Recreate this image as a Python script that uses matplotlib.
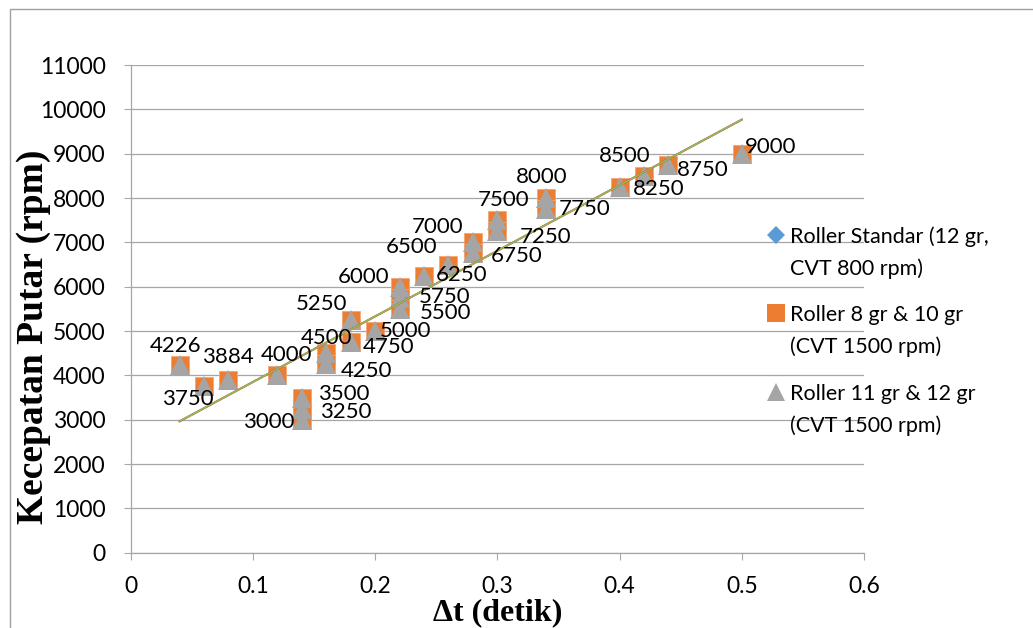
import matplotlib
matplotlib.use("Agg")
import matplotlib.pyplot as plt
import numpy as np
from matplotlib.lines import Line2D
from matplotlib.patches import Rectangle

# -------------------------------------------------------------
# DATA: delta t (detik) vs kecepatan putar (rpm)
# -------------------------------------------------------------
dt = [0.04, 0.06, 0.08, 0.12, 0.14, 0.14, 0.14, 0.16, 0.16, 0.18, 0.18, 0.20,
      0.22, 0.22, 0.22, 0.24, 0.26, 0.28, 0.28, 0.30, 0.30, 0.34, 0.34, 0.40,
      0.42, 0.44, 0.50]
rpm_standar = [4226, 3750, 3884, 4000, 3000, 3250, 3500, 4500, 4250, 5250, 4750, 5000,
               6000, 5750, 5500, 6250, 6500, 7000, 6750, 7500, 7250, 8000, 7750, 8250,
               8500, 8750, 9000]
rpm_8_10 = list(rpm_standar)
rpm_11_12 = list(rpm_standar)

series_names = ["Roller Standar (12 gr,\nCVT 800 rpm)",
                "Roller 8 gr & 10 gr\n(CVT 1500 rpm)",
                "Roller 11 gr & 12 gr\n(CVT 1500 rpm)"]

x_ticks = [0, 0.1, 0.2, 0.3, 0.4, 0.5, 0.6]
y_ticks = list(range(0, 11001, 1000))

# label placement (pixel offsets from each point, up = positive)
label_offsets = [(-4, 21), (-16, -11), (-1, 25), (9, 22), (-33, 0), (44, -1), (42, 6),
                 (0, 17), (40, -5), (-29, 18), (38, -3), (30, 2), (-36, 12), (45, 3),
                 (46, -2), (38, 3), (-37, 20), (-35, 17), (44, -1), (6, 22), (48, -4),
                 (-5, 23), (38, 2), (39, 0), (-19, 22), (34, -3), (29, 9)]

# -------------------------------------------------------------
# STYLE
# -------------------------------------------------------------
BLUE = "#5B9BD5"
ORANGE = "#ED7D31"
GRAY = "#A5A5A5"
GRID = "#A6A6A6"
FONT = "Lato"
W, H = 1033, 628

plt.rcParams["font.family"] = [FONT, "DejaVu Sans"]

fig = plt.figure(figsize=(W / 100, H / 100), dpi=100)
ax = fig.add_axes([130.7 / W, 1 - 552.7 / H, (864 - 130.7) / W, (552.7 - 65) / H])

# outer chart border
fig.add_artist(Rectangle((9.5 / W, -0.05), 1.2, 1 - 9 / H + 0.05, transform=fig.transFigure,
                         fill=False, edgecolor="#A0A0A0", linewidth=1.0, clip_on=False))

ax.plot(dt, rpm_standar, linestyle="none", marker="D", markersize=9,
        color=BLUE, zorder=3)
ax.plot(dt, rpm_8_10, linestyle="none", marker="s", markersize=13.5,
        markerfacecolor=ORANGE, markeredgecolor="#F4A77A", markeredgewidth=0.6, zorder=4)
ax.plot(dt, rpm_11_12, linestyle="none", marker="^", markersize=14,
        color=GRAY, markeredgewidth=0, zorder=5)

# linear trendlines (same data for all three series)
xs = np.array([min(dt), max(dt)])
fit_std = np.polyfit(dt, rpm_standar, 1)
fit_8_10 = np.polyfit(dt, rpm_8_10, 1)
fit_11_12 = np.polyfit(dt, rpm_11_12, 1)
ax.plot(xs, np.polyval(fit_std, xs), color=BLUE, linewidth=1.0, zorder=6)
ax.plot(xs, np.polyval(fit_8_10, xs), color="#C0504D", linewidth=1.5, zorder=6)
ax.plot(xs, np.polyval(fit_11_12, xs), color="#92C050", linewidth=1.1, zorder=7)

# data labels
for x, v, (dx, dy) in zip(dt, rpm_8_10, label_offsets):
    ax.annotate(str(v), (x, v), xytext=(dx, dy - 8), textcoords="offset pixels",
                ha="center", va="baseline", fontsize=16, color="black", zorder=8)

ax.set_xlim(0, 0.6)
ax.set_ylim(0, 11000)
ax.set_xticks(x_ticks)
ax.set_xticklabels(["0" if t == 0 else f"{t:g}" for t in x_ticks])
ax.set_yticks(y_ticks)
ax.tick_params(axis="both", direction="out", length=5, width=0.8, color=GRID,
               labelsize=16.5, labelcolor="black")
ax.tick_params(axis="y", pad=13)
ax.tick_params(axis="x", pad=12)
ax.yaxis.grid(True, color=GRID, linewidth=0.9)
ax.set_axisbelow(True)
for side in ["top", "right"]:
    ax.spines[side].set_visible(False)
for side in ["left", "bottom"]:
    ax.spines[side].set_color(GRID)
    ax.spines[side].set_linewidth(0.9)

# axis titles
fig.text(34 / W, 1 - 336.5 / H, "Kecepatan Putar (rpm)", rotation=90, ha="center",
         va="center", fontsize=27, fontweight="bold", family="Liberation Serif")
fig.text(497.5 / W, 1 - 613 / H, "Δt (detik)", ha="center", va="center",
         fontsize=23, fontweight="bold", family="Liberation Serif")

# legend (drawn by hand so the marker sits on the first text line)
legend_markers = [("D", BLUE, 9), ("s", ORANGE, 12.5), ("^", GRAY, 13)]
legend_rows = [235, 313, 392]
for (mk, col, ms), row, name in zip(legend_markers, legend_rows, series_names):
    fig.add_artist(Line2D([776 / W], [1 - row / H], marker=mk, color=col, markersize=ms,
                          markeredgewidth=0, linestyle="none", transform=fig.transFigure))
    for k, line in enumerate(name.split("\n")):
        fig.text(790 / W, 1 - (row + 32 * k + 8) / H, line, ha="left", va="baseline",
                 fontsize=15.5, color="black")

fig.savefig("out.png", dpi=100)
